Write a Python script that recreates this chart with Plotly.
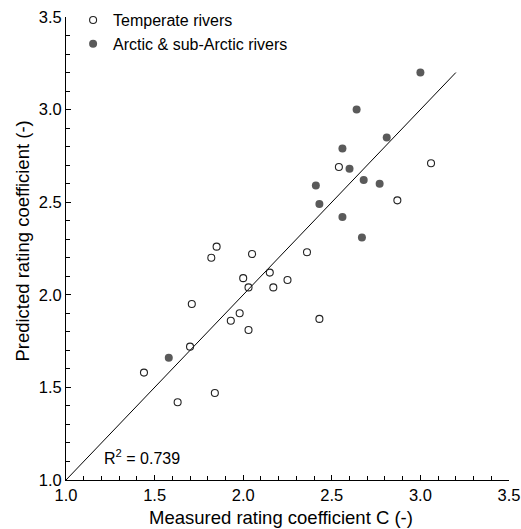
import plotly.graph_objects as go

# temperate rivers (open circles)
temperate_measured = [2.54, 1.85, 1.82, 2.05, 2.36, 2.00, 2.15, 2.03, 2.17, 2.25, 1.71,
                      1.98, 1.93, 2.03, 2.43, 1.70, 1.44, 1.84, 1.63, 3.06, 2.87]
temperate_predicted = [2.69, 2.26, 2.20, 2.22, 2.23, 2.09, 2.12, 2.04, 2.04, 2.08, 1.95,
                       1.90, 1.86, 1.81, 1.87, 1.72, 1.58, 1.47, 1.42, 2.71, 2.51]

# arctic & sub-arctic rivers (filled circles)
arctic_measured = [1.58, 2.41, 2.43, 2.56, 2.56, 2.60, 2.64, 2.68, 2.77, 2.67, 2.81, 3.00]
arctic_predicted = [1.66, 2.59, 2.49, 2.42, 2.79, 2.68, 3.00, 2.62, 2.60, 2.31, 2.85, 3.20]

one_to_one = [1.0, 3.2]
r_squared = 0.739

FONT = "Liberation Sans, Arial, sans-serif"
GREY = "#5a5a5a"

fig = go.Figure()

fig.add_trace(go.Scatter(
    x=one_to_one, y=one_to_one, mode="lines",
    line=dict(color="black", width=1), showlegend=False, hoverinfo="skip",
))
fig.add_trace(go.Scatter(
    x=temperate_measured, y=temperate_predicted, mode="markers",
    name="Temperate rivers",
    marker=dict(symbol="circle-open", size=7, color="#222222", line=dict(width=1.1)),
))
fig.add_trace(go.Scatter(
    x=arctic_measured, y=arctic_predicted, mode="markers",
    name="Arctic & sub-Arctic rivers",
    marker=dict(symbol="circle", size=8, color=GREY),
))

fig.add_annotation(
    x=1.205, y=1.125, xref="x", yref="y", xanchor="left", yanchor="middle",
    text=f"R<sup>2</sup> = {r_squared}", showarrow=False,
    font=dict(family=FONT, size=16, color="black"),
)

# axis titles placed as annotations so the plot area stays fixed
fig.add_annotation(
    x=0.486, y=-0.082, xref="paper", yref="paper", xanchor="center", yanchor="middle",
    text="Measured rating coefficient C (-)", showarrow=False,
    font=dict(family=FONT, size=18.5, color="black"),
)
fig.add_annotation(
    x=-0.097, y=0.515, xref="paper", yref="paper", xanchor="center", yanchor="middle",
    text="Predicted rating coefficient (-)", showarrow=False, textangle=-90,
    font=dict(family=FONT, size=18.5, color="black"),
)

axis_common = dict(
    showline=True, linecolor="black", linewidth=1, mirror=False,
    showgrid=False, zeroline=False, automargin=False,
    ticks="inside", ticklen=5, tickwidth=1, tickcolor="black",
    dtick=0.5, tick0=1.0, tickformat=".1f",
    tickfont=dict(family=FONT, size=16.5, color="black"),
    minor=dict(ticks="inside", ticklen=4, tickwidth=1, tickcolor="black", dtick=0.1),
)

fig.update_layout(
    width=521, height=529,
    margin=dict(l=66, r=12, t=17, b=49, autoexpand=False),
    plot_bgcolor="white", paper_bgcolor="white",
    font=dict(family=FONT, color="black"),
    xaxis=dict(range=[1.0, 3.5], **axis_common),
    yaxis=dict(range=[1.0, 3.5], **axis_common),
    legend=dict(x=0.016, y=1.03, xanchor="left", yanchor="top",
                font=dict(family=FONT, size=16), bgcolor="rgba(0,0,0,0)",
                itemwidth=30, tracegroupgap=0),
)

# drop the browser's default body margin so the figure sits at the page corner
fig.write_html("out.html", config={"displayModeBar": False},
               post_script="document.body.style.margin = '0';")
